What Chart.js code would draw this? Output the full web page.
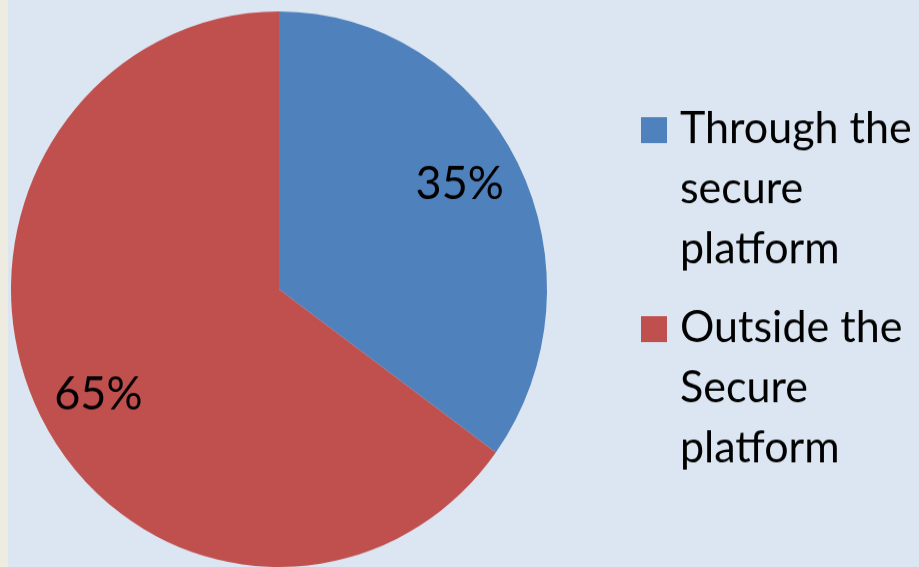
<!DOCTYPE html>
<html>
<head>
<meta charset="utf-8">
<script src="https://cdn.jsdelivr.net/npm/chart.js@4.4.0/dist/chart.umd.min.js"></script>
<style>
  html, body { margin: 0; padding: 0; background: #dce6f2; overflow: hidden; }
  #wrap { position: relative; width: 919px; height: 567px; background: #dce6f2; overflow: hidden; }
  #strip { position: absolute; left: 0; top: 0; width: 8px; height: 567px; background: #eeece1; }
  #stretch { position: absolute; left: 0; top: 0; width: 919px; height: 547px; transform: scaleY(1.0366); transform-origin: 0 0; }
  canvas { display: block; }
</style>
</head>
<body>
<div id="wrap">
  <div id="strip"></div>
  <div id="stretch"><canvas id="c" width="919" height="547"></canvas></div>
</div>
<script>
const categories = [["Through the", "secure", "platform"], ["Outside the", "Secure", "platform"]];
const values = [35, 65];
const valueLabels = ["35%", "65%"];
const colors = ["#4f81bd", "#c0504d"];

const FONT = "Lato, Carlito, 'Open Sans', sans-serif";

const labelPlugin = {
  id: "sliceLabels",
  afterDatasetsDraw(chart) {
    const ctx = chart.ctx;
    const meta = chart.getDatasetMeta(0);
    ctx.save();
    ctx.font = "45px " + FONT;
    ctx.fillStyle = "#000";
    ctx.textAlign = "center";
    ctx.textBaseline = "middle";
    meta.data.forEach((arc, i) => {
      const p = arc.getProps(["x", "y", "startAngle", "endAngle", "outerRadius"], true);
      const mid = (p.startAngle + p.endAngle) / 2 - 0.04;
      const r = p.outerRadius * 0.773;
      ctx.fillText(valueLabels[i], p.x + Math.cos(mid) * r, p.y + Math.sin(mid) * r);
    });
    ctx.restore();
  }
};

const legendPlugin = {
  id: "wrapLegend",
  afterDraw(chart) {
    const ctx = chart.ctx;
    ctx.save();
    ctx.font = "43px " + FONT;
    ctx.textAlign = "left";
    ctx.textBaseline = "alphabetic";
    const baselines = [138, 330];
    categories.forEach((lines, i) => {
      const b = baselines[i];
      ctx.fillStyle = colors[i];
      ctx.fillRect(641, b - 25, 26, 25);
      ctx.fillStyle = "#000";
      lines.forEach((t, j) => ctx.fillText(t, 680, b + j * 58));
    });
    ctx.restore();
  }
};

new Chart(document.getElementById("c"), {
  type: "pie",
  data: {
    labels: categories.map(l => l.join(" ")),
    datasets: [{
      data: values,
      backgroundColor: colors,
      borderWidth: 0
    }]
  },
  options: {
    responsive: false,
    animation: false,
    devicePixelRatio: 1,
    layout: { padding: { left: 11, right: 372, top: 11, bottom: 0 } },
    plugins: { legend: { display: false }, tooltip: { enabled: false } }
  },
  plugins: [labelPlugin, legendPlugin]
});
</script>
</body>
</html>
